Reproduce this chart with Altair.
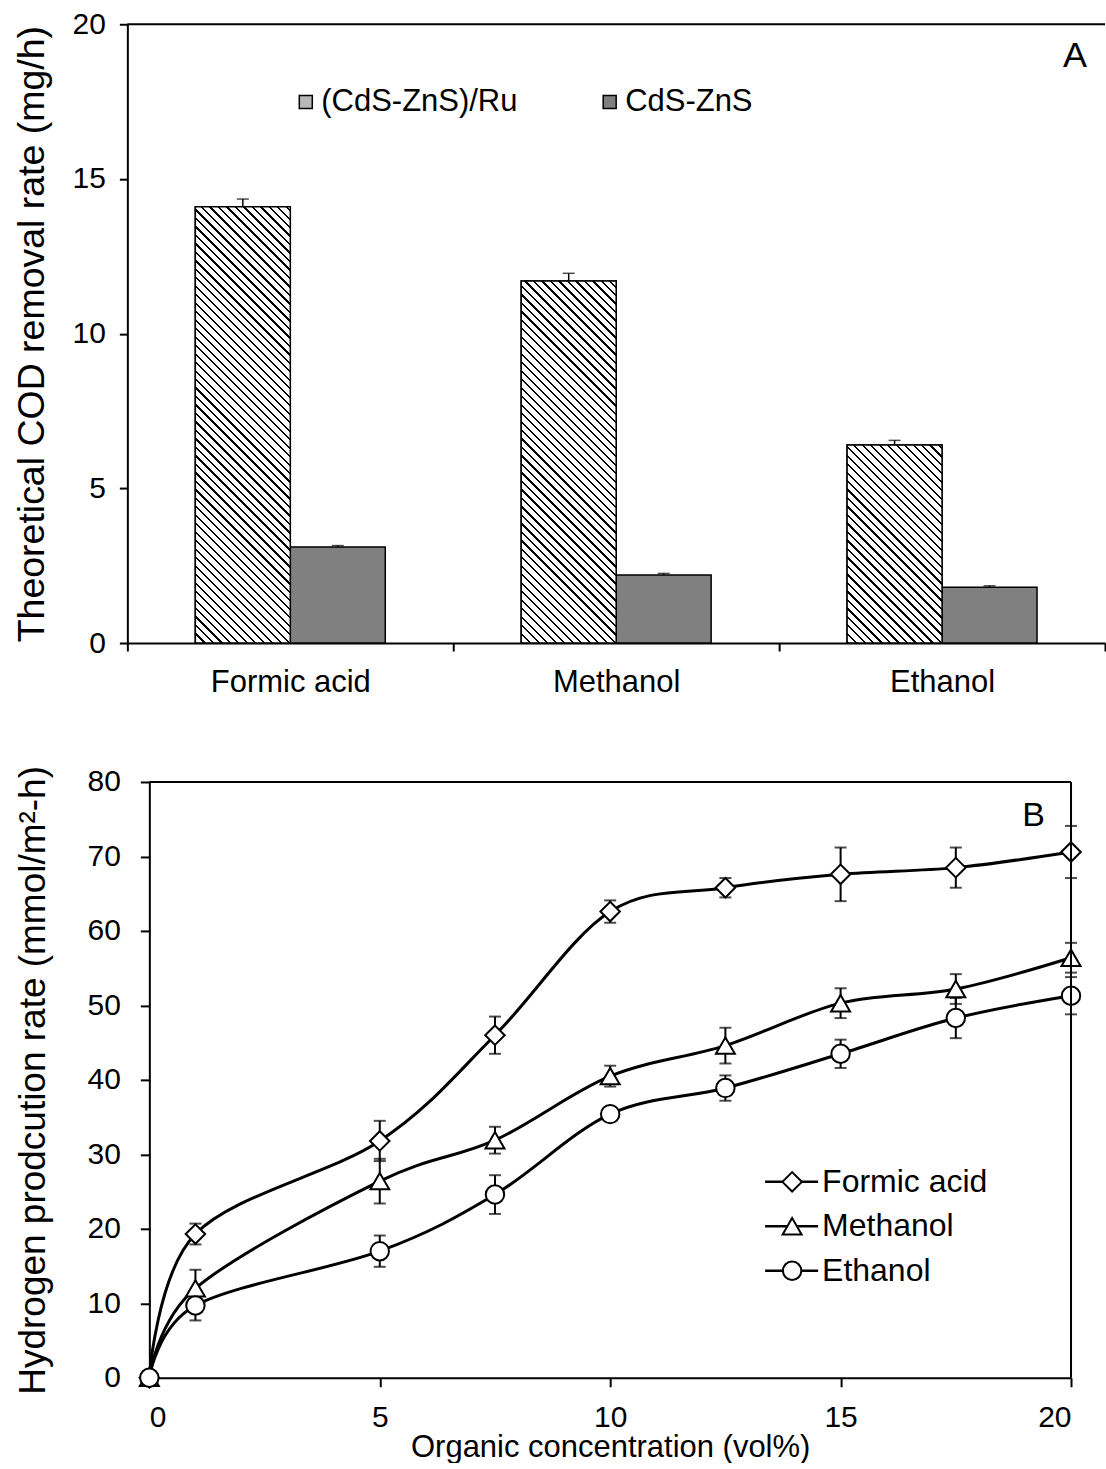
import math
import altair as alt
import pandas as pd

FONT = "Liberation Sans"

# ---------------- Panel A data ----------------
organics = ["Formic acid", "Methanol", "Ethanol"]
catalysts = ["(CdS-ZnS)/Ru", "CdS-ZnS"]
ru_rate = [14.1, 11.7, 6.4]
ru_err = [0.25, 0.25, 0.15]
czs_rate = [3.1, 2.2, 1.8]
czs_err = [0.05, 0.05, 0.05]

# ---------------- Panel B data ----------------
conc = [0, 1, 5, 7.5, 10, 12.5, 15, 17.5, 20]
series_b = ["Formic acid", "Methanol", "Ethanol"]
formic_h2 = [0, 19.3, 31.8, 46.0, 62.6, 65.8, 67.6, 68.5, 70.6]
formic_sd = [0, 1.4, 2.7, 2.5, 1.5, 1.3, 3.6, 2.7, 3.5]
methanol_h2 = [0, 12.0, 26.4, 31.9, 40.5, 44.6, 50.3, 52.2, 56.4]
methanol_sd = [0, 2.5, 3.0, 1.8, 1.4, 2.4, 2.0, 2.0, 2.0]
ethanol_h2 = [0, 9.7, 17.0, 24.6, 35.4, 38.9, 43.5, 48.3, 51.3]
ethanol_sd = [0, 2.0, 2.1, 2.6, 0.6, 1.7, 1.9, 2.7, 2.5]

panel_letters = ["A", "B"]

# ---------------- layout constants ----------------
SHIFT_B = 22          # panel B axes sit this far right of panel A axes
W_A, H_A = 978, 619
W_B, H_B = 922, 596
BAR_W = 95
Y_MAX_A = 20
X_MAX_B, Y_MAX_B = 20, 80

# ---------------- Panel A ----------------
rows_a = []
for i, org in enumerate(organics):
    rows_a.append(dict(organic=org, catalyst=catalysts[0], rate=ru_rate[i], err=ru_err[i]))
    rows_a.append(dict(organic=org, catalyst=catalysts[1], rate=czs_rate[i], err=czs_err[i]))
df_a = pd.DataFrame(rows_a)
df_a["top"] = df_a["rate"] + df_a["err"]

step_a = W_A / len(organics)
off_pad = (step_a / BAR_W - 2) / 2
x_scale_a = alt.Scale(domain=organics, paddingInner=0, paddingOuter=0)
x_a = alt.X("organic:N", scale=x_scale_a,
            axis=alt.Axis(title=None, labelAngle=0, tickBand="extent", labelFontSize=31,
                          labelPadding=16, tickSize=8))
xo_a = alt.XOffset("catalyst:N",
                   scale=alt.Scale(domain=catalysts, paddingInner=0, paddingOuter=off_pad))


def y_a(field):
    return alt.Y(field, scale=alt.Scale(domain=[0, Y_MAX_A], nice=False),
                 axis=alt.Axis(values=[0, 5, 10, 15, 20],
                               title="Theoretical COD removal rate (mg/h)",
                               titleFontSize=37.5, titlePadding=21, labelPadding=14, tickSize=8))


bars_a = alt.Chart(df_a).mark_bar(stroke="black", strokeWidth=1.5).encode(
    x=x_a, xOffset=xo_a, y=y_a("rate:Q"),
    fill=alt.Fill("catalyst:N", scale=alt.Scale(domain=catalysts, range=["#b8b8b8", "#808080"]),
                  legend=alt.Legend(title=None, orient="none", legendX=163, legendY=62,
                                    direction="horizontal", symbolType="square", symbolSize=169,
                                    symbolStrokeColor="black", symbolStrokeWidth=1.5,
                                    labelFontSize=31, labelOffset=0, labelLimit=600,
                                    columnPadding=76, padding=0)),
)


def stripe_gradient(h, w, period=6.0, lw=1.6):
    """Diagonal '\\' hatch built from a hard-stop linear gradient."""
    r = h / w
    k = (1 + r) / (1 + r * r)
    D = (w + h) / math.sqrt(2)
    stops = [{"offset": 0, "color": "white"}]
    j = 0
    while True:
        a = j * period / D
        if a >= 1:
            break
        b = min((j * period + lw) / D, 1)
        stops += [{"offset": a, "color": "white"}, {"offset": a, "color": "black"},
                  {"offset": b, "color": "black"}, {"offset": b, "color": "white"}]
        j += 1
    stops.append({"offset": 1, "color": "white"})
    return {"gradient": "linear", "x1": 0, "y1": 1, "x2": k, "y2": 1 - k * r, "stops": stops}


hatch_layers = []
for i, org in enumerate(organics):
    h_px = ru_rate[i] / Y_MAX_A * H_A
    hatch_layers.append(
        alt.Chart(df_a)
        .transform_filter((alt.datum.catalyst == catalysts[0]) & (alt.datum.organic == org))
        .mark_bar(fill=stripe_gradient(h_px, BAR_W), stroke="black", strokeWidth=1.5)
        .encode(x=x_a, xOffset=xo_a, y=y_a("rate:Q"))
    )

cap_a = alt.Chart(df_a).mark_tick(color="black", thickness=1.5, size=12, orient="horizontal").encode(
    x=x_a, xOffset=xo_a, y=y_a("top:Q"))
rule_a = alt.Chart(df_a).mark_rule(color="black", strokeWidth=1.5).encode(
    x=x_a, xOffset=xo_a, y=y_a("rate:Q"), y2="top:Q")

# top frame line of panel A (at the top of the value axis)
frame_a = alt.Chart(pd.DataFrame({"ymax": [Y_MAX_A]})).mark_rule(color="black", strokeWidth=2).encode(
    y=y_a("ymax:Q"), x=alt.value(0), x2=alt.value(W_A))

letter_a = alt.Chart(pd.DataFrame({"letter": [panel_letters[0]]})).mark_text(
    align="right", baseline="alphabetic", fontSize=36, font=FONT, color="black").encode(
    text="letter:N", x=alt.value(960), y=alt.value(43))

panel_a = alt.layer(bars_a, *hatch_layers, cap_a, rule_a, frame_a, letter_a).properties(
    width=W_A, height=H_A)

# ---------------- Panel B ----------------
rows_b = []
for name, vals, sds in [(series_b[0], formic_h2, formic_sd),
                        (series_b[1], methanol_h2, methanol_sd),
                        (series_b[2], ethanol_h2, ethanol_sd)]:
    for c, v, s in zip(conc, vals, sds):
        rows_b.append(dict(series=name, conc=c, h2=v, sd=s, lo=v - s, hi=v + s))
df_b = pd.DataFrame(rows_b)


def x_b(field):
    return alt.X(field, scale=alt.Scale(domain=[0, X_MAX_B], nice=False,
                                        range=[SHIFT_B, SHIFT_B + W_B]),
                 axis=alt.Axis(values=[0, 5, 10, 15, 20], title="Organic concentration (vol%)",
                               titleFontSize=31, titlePadding=0, labelPadding=16, tickSize=9))


def y_b(field):
    return alt.Y(field, scale=alt.Scale(domain=[0, Y_MAX_B], nice=False),
                 axis=alt.Axis(values=list(range(0, 81, 10)), offset=-SHIFT_B,
                               title="Hydrogen prodcution rate (mmol/m²-h)",
                               titleFontSize=37, titlePadding=35, labelPadding=20, tickSize=9))


shape_b = alt.Shape("series:N", scale=alt.Scale(domain=series_b,
                                                range=["diamond", "triangle-up", "circle"]),
                    legend=None)
size_b = alt.Size("series:N", scale=alt.Scale(domain=series_b, range=[380, 340, 420]), legend=None)

lines_b = alt.Chart(df_b).mark_line(interpolate="cardinal", color="black").encode(
    x=x_b("conc:Q"), y=y_b("h2:Q"), detail="series:N",
    strokeWidth=alt.StrokeWidth("series:N", scale=alt.Scale(domain=series_b, range=[3, 3, 2.2]),
                                legend=None),
)
err_src = alt.Chart(df_b).transform_filter(alt.datum.sd > 0)
err_b = err_src.mark_rule(color="black", strokeWidth=2).encode(
    x=x_b("conc:Q"), y=y_b("lo:Q"), y2="hi:Q")
cap_lo_b = err_src.mark_tick(color="black", thickness=2, size=12, orient="horizontal").encode(
    x=x_b("conc:Q"), y=y_b("lo:Q"))
cap_hi_b = err_src.mark_tick(color="black", thickness=2, size=12, orient="horizontal").encode(
    x=x_b("conc:Q"), y=y_b("hi:Q"))
pts_b = alt.Chart(df_b).mark_point(filled=True, fill="white", stroke="black", strokeWidth=2,
                                   opacity=1).encode(x=x_b("conc:Q"), y=y_b("h2:Q"),
                                                     shape=shape_b, size=size_b)

# top and right edges of the panel B frame, placed in data space
frame_src = alt.Chart(pd.DataFrame({"xmin": [0], "xmax": [X_MAX_B], "ymin": [0], "ymax": [Y_MAX_B]}))
frame_top = frame_src.mark_rule(color="black", strokeWidth=2).encode(
    x=x_b("xmin:Q"), x2="xmax:Q", y=y_b("ymax:Q"))
frame_right = frame_src.mark_rule(color="black", strokeWidth=2).encode(
    x=x_b("xmax:Q"), y=y_b("ymin:Q"), y2="ymax:Q")

plot_b = alt.layer(lines_b, err_b, cap_lo_b, cap_hi_b, pts_b, frame_top, frame_right)

# legend of panel B: line - marker - label, rows placed by a point scale
leg_df = pd.DataFrame({"series": series_b})
leg_y = alt.Y("series:N", scale=alt.Scale(type="point", domain=series_b, range=[400, 489], padding=0),
              axis=None)
leg_line = alt.Chart(leg_df).mark_rule(color="black", strokeWidth=2.5).encode(
    y=leg_y, x=alt.value(638), x2=alt.value(691))
leg_pts = alt.Chart(leg_df).mark_point(filled=True, fill="white", stroke="black", strokeWidth=2,
                                       opacity=1).encode(y=leg_y, x=alt.value(665), shape=shape_b,
                                                         size=size_b)
leg_txt = alt.Chart(leg_df).mark_text(align="left", baseline="middle", fontSize=32, font=FONT,
                                      color="black").encode(y=leg_y, x=alt.value(695),
                                                            text="series:N")
letter_b = alt.Chart(pd.DataFrame({"letter": [panel_letters[1]]})).mark_text(
    align="right", baseline="alphabetic", fontSize=34, font=FONT, color="black").encode(
    text="letter:N", x=alt.value(918), y=alt.value(44))

panel_b = alt.layer(plot_b, alt.layer(leg_line, leg_pts, leg_txt), letter_b).resolve_scale(
    y="independent").properties(width=W_B, height=H_B)

chart = alt.vconcat(panel_a, panel_b, spacing=68).properties(
    padding={"left": 12.4, "top": 9, "right": 0, "bottom": 0},
    background="white",
).configure_view(strokeWidth=0).configure_axis(
    domainColor="black", domainWidth=2, tickColor="black", tickWidth=2,
    labelFont=FONT, labelFontSize=30, labelColor="black",
    titleFont=FONT, titleColor="black", titleFontWeight="normal", grid=False,
).configure_legend(
    labelFont=FONT, labelFontSize=31, labelColor="black",
)

chart.save("out.html", embed_options={"renderer": "svg", "actions": False})
